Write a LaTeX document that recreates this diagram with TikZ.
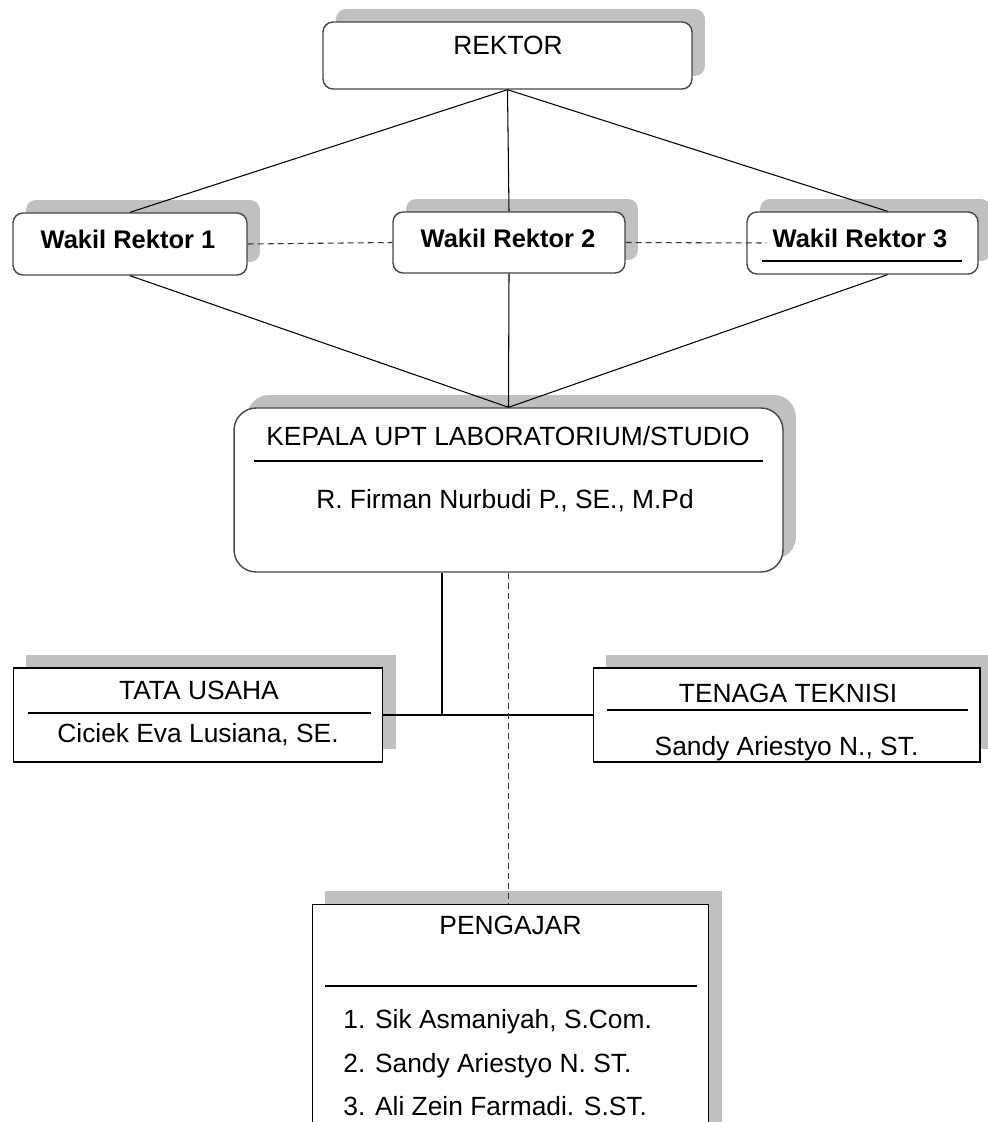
\documentclass[tikz,border=0pt]{standalone}
\usepackage{fontspec}
\setmainfont{Liberation Sans}
\usetikzlibrary{positioning, calc, shadows}
\definecolor{shadegray}{RGB}{192,192,192}
\definecolor{edgegray}{RGB}{70,70,70}
\tikzset{
    roundbox/.style={rectangle, rounded corners=#1, draw=edgegray, fill=white, line width=0.8pt, inner sep=0pt,
        general shadow={fill=shadegray, shadow xshift=0.26cm, shadow yshift=0.26cm}},
    roundbox/.default=0.2cm,
    squarebox/.style={rectangle, draw=black, fill=white, line width=0.6pt, inner sep=0pt,
        general shadow={fill=shadegray, shadow xshift=0.26cm, shadow yshift=0.26cm}},
    boldlbl/.style={font=\fontsize{14.5}{17}\selectfont\bfseries, inner sep=0pt, anchor=base},
    lbl/.style={font=\fontsize{15}{18}\selectfont, inner sep=0pt, anchor=base},
    itemlbl/.style={font=\fontsize{15}{18}\selectfont, inner sep=0pt, anchor=base west},
    rulestyle/.style={line width=0.6pt, color=black},
    conn/.style={line width=0.6pt, color=black},
    dashconn/.style={line width=0.6pt, color=black!80, dash pattern=on 0.12cm off 0.08cm}
}

\begin{document}
\begin{tikzpicture}[x=0.02cm, y=-0.02cm]
    \useasboundingbox (0,0) rectangle (987,1122);

    % Rektor
    \node[roundbox, minimum width=7.38cm, minimum height=1.34cm] (rektor) at (507.5,55.5) {};
    \node[lbl] (rektorlbl) at (508,55) {REKTOR};

    % Wakil Rektor
    \node[roundbox, minimum width=4.68cm, minimum height=1.24cm] (wr1) at (130,244) {};
    \node[boldlbl] (wr1lbl) at (128,248) {Wakil Rektor 1};

    \node[roundbox, minimum width=4.64cm, minimum height=1.22cm] (wr2) at (509,242.5) {};
    \node[boldlbl] (wr2lbl) at (508,247) {Wakil Rektor 2};

    \node[roundbox, minimum width=4.62cm, minimum height=1.24cm] (wr3) at (862.5,243) {};
    \node[boldlbl] (wr3lbl) at (860,247) {Wakil Rektor 3};
    \draw[rulestyle] (762,261) -- (962,261);

    % Kepala UPT
    \node[roundbox=0.44cm, minimum width=10.98cm, minimum height=3.28cm] (kepala) at (508.5,490) {};
    \node[lbl] (kepalalbl) at (508,445) {KEPALA UPT LABORATORIUM/STUDIO};
    \draw[rulestyle] (254,461) -- (763,461);
    \node[lbl] (kepalanama) at (505,508) {R. Firman Nurbudi P., SE., M.Pd};

    % Tata Usaha & Tenaga Teknisi
    \node[squarebox, minimum width=7.4cm, minimum height=1.88cm] (tata) at (198,715) {};
    \node[lbl] (tatalbl) at (199,699) {TATA USAHA};
    \draw[rulestyle] (28,713) -- (371,713);
    \node[lbl] (tatanama) at (198,742) {Ciciek Eva Lusiana, SE.};

    \node[squarebox, minimum width=7.74cm, minimum height=1.88cm] (tenaga) at (786.5,715) {};
    \node[lbl] (tenagalbl) at (788,702) {TENAGA TEKNISI};
    \draw[rulestyle] (607,710) -- (968,710);
    \node[lbl] (tenaganama) at (786.5,755) {Sandy Ariestyo N., ST.};

    % Pengajar
    \node[squarebox, minimum width=7.94cm, minimum height=4.62cm] (pengajar) at (510.5,1019.5) {};
    \node[lbl] (pengajarlbl) at (510.5,934) {PENGAJAR};
    \draw[rulestyle] (325,986) -- (697,986);
    \node[itemlbl] (ajar1) at (343,1028) {1. Sik Asmaniyah, S.Com.};
    \node[itemlbl] (ajar2) at (343,1072) {2. Sandy Ariestyo N. ST.};
    \node[itemlbl] (ajar3) at (343,1115) {3. Ali Zein Farmadi. S.ST.};

    % Connectors
    \draw[conn] (rektor.south) -- (wr1.north);
    \draw[conn] (rektor.south) -- (wr2.north);
    \draw[conn] (rektor.south) -- ([xshift=0.5cm]wr3.north);
    \draw[conn] (wr1.south) -- (kepala.north);
    \draw[conn] (wr2.south) -- (kepala.north);
    \draw[conn] ([xshift=0.5cm]wr3.south) -- (kepala.north);
    \draw[dashconn] (wr1.east) -- (wr2.west);
    \draw[dashconn] (wr2.east) -- ([xshift=0.4cm]wr3.west);

    \coordinate (tee) at (442,715);
    \draw[conn] (kepala.south -| tee) -- (tee);
    \draw[conn] (tata.east) -- (tenaga.west);
    \draw[dashconn] (kepala.south) -- (kepala.south |- pengajar.north);
\end{tikzpicture}
\end{document}
